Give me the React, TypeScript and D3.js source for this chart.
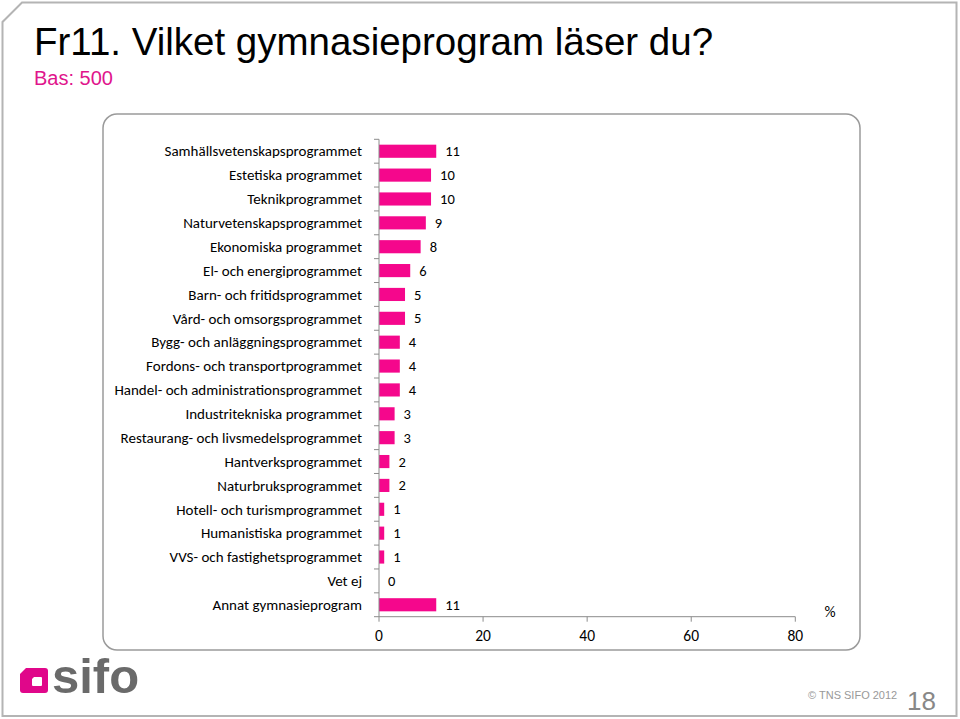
import React from "react";
import * as d3 from "d3";

const categories = [
  "Samhällsvetenskapsprogrammet",
  "Estetiska programmet",
  "Teknikprogrammet",
  "Naturvetenskapsprogrammet",
  "Ekonomiska programmet",
  "El- och energiprogrammet",
  "Barn- och fritidsprogrammet",
  "Vård- och omsorgsprogrammet",
  "Bygg- och anläggningsprogrammet",
  "Fordons- och transportprogrammet",
  "Handel- och administrationsprogrammet",
  "Industritekniska programmet",
  "Restaurang- och livsmedelsprogrammet",
  "Hantverksprogrammet",
  "Naturbruksprogrammet",
  "Hotell- och turismprogrammet",
  "Humanistiska programmet",
  "VVS- och fastighetsprogrammet",
  "Vet ej",
  "Annat gymnasieprogram",
];
const values = [11, 10, 10, 9, 8, 6, 5, 5, 4, 4, 4, 3, 3, 2, 2, 1, 1, 1, 0, 11];
const xTicks = [0, 20, 40, 60, 80];

const title = "Fr11. Vilket gymnasieprogram läser du?";
const subtitle = "Bas: 500";

const BAR = "#F5078C";
const AXIS = "#8c8c8c";
const LABEL_FONT = "Carlito, Calibri, Lato, 'Open Sans', sans-serif";

export default function App() {
  const top = 139.3;
  const bottom = 616.7;
  const x = d3.scaleLinear().domain([0, 80]).range([379, 795.3]);
  const p = 0.45;
  const y = d3
    .scaleBand<string>()
    .domain(categories)
    .range([top, bottom])
    .paddingInner(p)
    .paddingOuter(p / 2);
  const step = y.step();
  const boundaries = d3.range(categories.length + 1).map((i) => top + i * step);

  return (
    <svg
      width={960}
      height={719}
      style={{ position: "absolute", left: 0, top: 0, background: "#fff" }}
    >
      <rect width={960} height={719} fill="#fff" />
      {/* slide border */}
      <path
        d="M 22 2.5 L 956.5 2.5 L 956.5 716 L 2.5 716 L 2.5 22 Z"
        fill="none"
        stroke="#b4b4b4"
        strokeWidth={2}
      />
      {/* title */}
      <text
        x={34}
        y={55}
        fontFamily="'Liberation Sans', Arial, sans-serif"
        fontSize={38.5}
        fill="#000"
      >
        {title}
      </text>
      <text
        x={34}
        y={85}
        fontFamily="'Liberation Sans', Arial, sans-serif"
        fontSize={20}
        fill="#E0158C"
      >
        {subtitle}
      </text>
      {/* plot frame */}
      <rect
        x={103}
        y={114}
        width={757}
        height={536}
        rx={14}
        ry={14}
        fill="#fff"
        stroke="#9a9a9a"
        strokeWidth={1.5}
      />
      {/* bars */}
      {categories.map((c, i) => (
        <rect
          key={c}
          x={x(0)}
          y={y(c)}
          width={x(values[i]) - x(0)}
          height={y.bandwidth()}
          fill={BAR}
        />
      ))}
      {/* axes */}
      <line x1={x(0)} x2={x(0)} y1={top} y2={bottom} stroke={AXIS} strokeWidth={1} />
      {boundaries.map((b, i) => (
        <line key={i} x1={x(0) - 5} x2={x(0)} y1={b} y2={b} stroke={AXIS} strokeWidth={1} />
      ))}
      <line x1={x(0)} x2={x(80)} y1={bottom} y2={bottom} stroke={AXIS} strokeWidth={1} />
      {xTicks.map((t) => (
        <g key={t}>
          <line x1={x(t)} x2={x(t)} y1={bottom} y2={bottom + 5} stroke={AXIS} strokeWidth={1} />
          <text
            x={x(t)}
            y={641}
            textAnchor="middle"
            fontFamily={LABEL_FONT}
            fontSize={15.5}
            fill="#000"
          >
            {t}
          </text>
        </g>
      ))}
      <text x={830} y={617} textAnchor="middle" fontFamily={LABEL_FONT} fontSize={15.5} fill="#000">
        %
      </text>
      {/* category labels */}
      {categories.map((c) => (
        <text
          key={c}
          x={362}
          y={(y(c) as number) + y.bandwidth() / 2}
          dy="0.35em"
          textAnchor="end"
          fontFamily={LABEL_FONT}
          fontSize={15}
          fill="#000"
        >
          {c}
        </text>
      ))}
      {/* value labels */}
      {categories.map((c, i) => (
        <text
          key={c}
          x={x(values[i]) + 9}
          y={(y(c) as number) + y.bandwidth() / 2}
          dy="0.35em"
          fontFamily={LABEL_FONT}
          fontSize={14.5}
          fill="#000"
        >
          {values[i]}
        </text>
      ))}
      {/* logo */}
      <path
        d="M 26 668 L 45 668 Q 48 668 48 671 L 48 690 Q 48 693 45 693 L 23 693 Q 20 693 20 690 L 20 674 Z"
        fill="#E0078A"
      />
      <path
        d="M 34 677 L 41 677 Q 42 677 42 678 L 42 685 Q 42 686 41 686 L 33 686 Q 32 686 32 685 L 32 679 Z"
        fill="#fff"
      />
      <text
        x={52}
        y={693}
        fontFamily="'Liberation Sans', Arial, sans-serif"
        fontWeight="bold"
        fontSize={49}
        fill="#6a6a6a"
      >
        sifo
      </text>
      {/* footer */}
      <text
        x={808}
        y={699}
        fontFamily="'Liberation Sans', Arial, sans-serif"
        fontSize={11}
        fill="#999"
      >
        © TNS SIFO 2012
      </text>
      <text
        x={907}
        y={710}
        fontFamily="'Liberation Sans', Arial, sans-serif"
        fontSize={26}
        fill="#888"
      >
        18
      </text>
    </svg>
  );
}
